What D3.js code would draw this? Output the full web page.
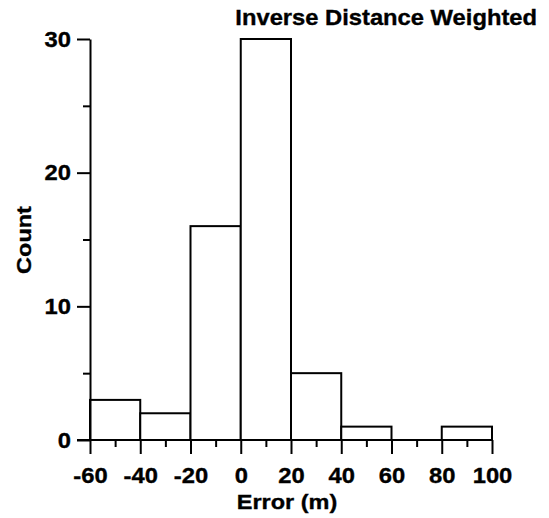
<!DOCTYPE html>
<html>
<head>
<meta charset="utf-8">
<script src="https://cdn.jsdelivr.net/npm/d3@7"></script>
<style>
  html, body { margin: 0; padding: 0; background: #fff; }
  svg text { font-family: "Liberation Sans", Arial, sans-serif; font-weight: bold; fill: #000;
             stroke: #000; stroke-width: 0.35px; }
</style>
</head>
<body>
<svg id="chart" width="549" height="518"></svg>
<script>
// Histogram of interpolation errors, 20 m bins
const binStarts = [-60, -40, -20, 0, 20, 40, 60, 80];
const binWidth = 20;
const counts = [3, 2, 16, 30, 5, 1, 0, 1];
const xMajorTicks = [-60, -40, -20, 0, 20, 40, 60, 80, 100];
const xMinorTicks = [-50, -30, -10, 10, 30, 50, 70, 90];
const yMajorTicks = [0, 10, 20, 30];
const yMinorTicks = [5, 15, 25];
const title = "Inverse Distance Weighted";
const xTitle = "Error (m)";
const yTitle = "Count";

const svg = d3.select("#chart");
const x = d3.scaleLinear().domain([-60, 100]).range([90, 492]);
const y = d3.scaleLinear().domain([0, 30]).range([440, 39]);
const sx = 1.08; // horizontal stretch of the lettering
const fmt = d => String(d); // plain hyphen for negatives

// bars
svg.append("g").selectAll("rect")
  .data(binStarts.map((s, i) => ({ s, c: counts[i] })).filter(d => d.c > 0))
  .join("rect")
  .attr("x", d => x(d.s))
  .attr("width", d => x(d.s + binWidth) - x(d.s))
  .attr("y", d => y(d.c))
  .attr("height", d => y(0) - y(d.c))
  .attr("fill", "#fff")
  .attr("stroke", "#000")
  .attr("stroke-width", 2);

// x axis
const gx = svg.append("g").attr("transform", `translate(0,${y(0)})`);
gx.call(d3.axisBottom(x).tickValues(xMajorTicks).tickSize(14).tickSizeOuter(0).tickFormat(fmt).tickPadding(13));
gx.append("g").call(d3.axisBottom(x).tickValues(xMinorTicks).tickSize(7).tickSizeOuter(0).tickFormat(""))
  .select(".domain").remove();
gx.select(".domain").attr("d", `M${x(-60) - 13},0H${x(100)}`);

// y axis
const gy = svg.append("g").attr("transform", `translate(${x(-60)},0)`);
gy.call(d3.axisLeft(y).tickValues(yMajorTicks).tickSize(13).tickSizeOuter(0).tickFormat(fmt).tickPadding(6));
gy.append("g").call(d3.axisLeft(y).tickValues(yMinorTicks).tickSize(7).tickSizeOuter(0).tickFormat(""))
  .select(".domain").remove();

svg.selectAll(".domain, .tick line").attr("stroke", "#000").attr("stroke-width", 2);
svg.selectAll(".tick text").attr("font-size", 22).attr("fill", "#000");

// stretch tick labels horizontally around their anchor
gx.selectAll(".tick text").attr("transform", `scale(${sx},1)`);
gy.selectAll(".tick text").each(function () {
  const t = d3.select(this);
  const xx = +t.attr("x");
  t.attr("transform", `translate(${xx},0) scale(${sx},1) translate(${-xx},0)`);
});

// titles
svg.append("text")
  .attr("transform", `translate(537,25) scale(${sx},1)`)
  .attr("text-anchor", "end")
  .attr("font-size", 22)
  .text(title);

svg.append("text")
  .attr("transform", `translate(287,509) scale(1.12,1)`)
  .attr("text-anchor", "middle")
  .attr("font-size", 21)
  .text(xTitle);

svg.append("text")
  .attr("transform", `translate(31,240) rotate(-90) scale(1.12,1)`)
  .attr("text-anchor", "middle")
  .attr("font-size", 21)
  .text(yTitle);
</script>
</body>
</html>
